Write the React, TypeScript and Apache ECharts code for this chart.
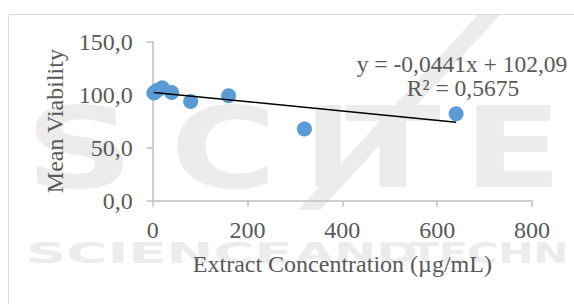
import React, { useEffect, useRef } from "react";
import * as echarts from "echarts";

const concentrations = [2.5, 5, 10, 20, 40, 80, 160, 320, 640];
const viability = [101.5, 102.5, 104, 106.5, 102, 93.5, 98.8, 67.5, 82];
const trendSlope = -0.0441;
const trendIntercept = 102.09;
const equationLines = ["y = -0,0441x + 102,09", "R² = 0,5675"];
const xAxisTitle = "Extract Concentration (µg/mL)";
const yAxisTitle = "Mean Viability";
const watermarkLetters = ["S", "C", "I", "T", "E"];
const watermarkWords = ["SCIENCE", "AND", "TECHN"];

const SERIF = "Liberation Serif";
const TEXT = "#595959";
const AXIS = "#bfbfbf";
const WM = "#ececec";

export default function App() {
  const ref = useRef<HTMLDivElement>(null);
  useEffect(() => {
    const chart = echarts.init(ref.current!, null, { renderer: "svg" });
    const xMin = Math.min(...concentrations);
    const xMax = Math.max(...concentrations);
    const letterPos = [
      { x: 25, s: 1.35 },
      { x: 170, s: 1.3 },
      { x: 303, s: 1.2 },
      { x: 345, s: 1.25 },
      { x: 463, s: 1.3 },
    ];
    const wordPos = [
      { x: 26, s: 2.0 },
      { x: 295, s: 1.8 },
      { x: 410, s: 1.5 },
    ];
    const graphics: any[] = [
      {
        type: "rect",
        silent: true,
        z: -10,
        shape: { x: 8.5, y: 14.5, width: 700, height: 400 },
        style: { fill: "#fff", stroke: "#d9d9d9", lineWidth: 1 },
      },
      ...watermarkLetters.map((ch, i) => ({
        type: "text",
        silent: true,
        z: -5,
        x: letterPos[i].x,
        y: 148,
        scaleX: letterPos[i].s,
        style: {
          text: ch,
          fill: WM,
          font: "bold 112px 'DejaVu Sans'",
          verticalAlign: "middle",
          align: "left",
        },
      })),
      {
        type: "polygon",
        silent: true,
        z: -5,
        shape: { points: [[478, 15], [500, 15], [320, 210], [298, 210]] },
        style: { fill: WM },
      },
      ...watermarkWords.map((w, i) => ({
        type: "text",
        silent: true,
        z: -5,
        x: wordPos[i].x,
        y: 253,
        scaleX: wordPos[i].s,
        style: {
          text: w,
          fill: WM,
          font: "bold 28px 'DejaVu Sans'",
          verticalAlign: "middle",
          align: "left",
        },
      })),
      {
        type: "text",
        silent: true,
        z: 10,
        x: 462,
        y: 64,
        style: {
          text: equationLines[0],
          fill: TEXT,
          font: `23.5px '${SERIF}'`,
          align: "center",
          verticalAlign: "middle",
        },
      },
      {
        type: "text",
        silent: true,
        z: 10,
        x: 463,
        y: 88,
        style: {
          text: equationLines[1],
          fill: TEXT,
          font: `23.5px '${SERIF}'`,
          align: "center",
          verticalAlign: "middle",
        },
      },
    ];
    chart.setOption({
      animation: false,
      backgroundColor: "transparent",
      grid: { left: 152.7, right: 42, top: 41.5, bottom: 103.3, containLabel: false },
      graphic: graphics,
      xAxis: {
        type: "value",
        min: 0,
        max: 800,
        interval: 200,
        name: xAxisTitle,
        nameLocation: "middle",
        nameGap: 51,
        nameTextStyle: { fontFamily: SERIF, fontSize: 24, color: TEXT },
        axisLine: { show: true, lineStyle: { color: AXIS, width: 1.5 } },
        axisTick: { show: true, length: 6, lineStyle: { color: AXIS, width: 1.5 } },
        splitLine: { show: false },
        axisLabel: { fontFamily: SERIF, fontSize: 24, color: TEXT, margin: 17 },
      },
      yAxis: {
        type: "value",
        min: 0,
        max: 150,
        interval: 50,
        name: yAxisTitle,
        nameLocation: "middle",
        nameGap: 86,
        nameRotate: 90,
        nameTextStyle: { fontFamily: SERIF, fontSize: 24, color: TEXT },
        axisLine: { show: true, lineStyle: { color: AXIS, width: 1.5 } },
        axisTick: { show: true, length: 6, lineStyle: { color: AXIS, width: 1.5 } },
        splitLine: { show: false },
        axisLabel: {
          fontFamily: SERIF,
          fontSize: 24,
          color: TEXT,
          margin: 20,
          formatter: (v: number) => v.toFixed(1).replace(".", ","),
        },
      },
      series: [
        {
          type: "line",
          data: [
            [xMin, trendIntercept + trendSlope * xMin],
            [xMax, trendIntercept + trendSlope * xMax],
          ],
          symbol: "none",
          lineStyle: { color: "#000", width: 1.5 },
          z: 3,
          silent: true,
        },
        {
          type: "scatter",
          data: concentrations.map((c, i) => [c, viability[i]]),
          symbolSize: 15,
          itemStyle: { color: "#5b9bd5", opacity: 1 },
          z: 2,
        },
      ],
    });
    return () => chart.dispose();
  }, []);
  return (
    <div
      ref={ref}
      style={{ position: "fixed", left: 0, top: 0, width: 574, height: 304, background: "#fff" }}
    />
  );
}
